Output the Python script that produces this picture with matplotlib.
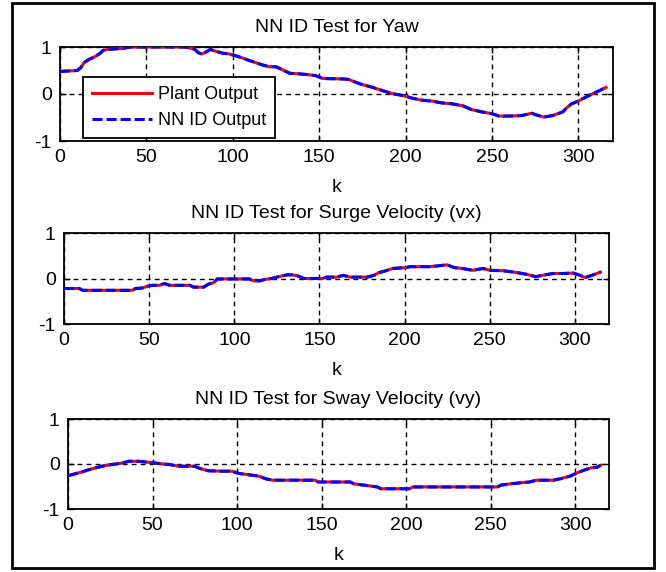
import numpy as np
import matplotlib
matplotlib.use("Agg")
import matplotlib.pyplot as plt
from matplotlib.patches import Rectangle

plt.rcParams['font.family'] = ['Liberation Sans', 'DejaVu Sans']
plt.rcParams['axes.unicode_minus'] = False

# yaw
k_yaw = [0, 5, 10, 12, 14, 17, 20, 23, 25, 28, 36, 41, 49, 72, 75, 78, 80, 82, 85, 87,
         90, 94, 98, 102, 106, 109, 113, 117, 121, 125, 129, 133, 138, 144, 148, 152, 164, 167, 169, 174,
         180, 186, 192, 198, 204, 209, 215, 221, 227, 233, 238, 244, 250, 254, 260, 267, 273, 276, 280, 285,
         291, 293, 296, 300, 304, 308, 312, 316]
yaw = [0.48, 0.49, 0.50, 0.56, 0.67, 0.74, 0.79, 0.86, 0.93, 0.95, 0.97, 1.0, 1.0, 1.0, 0.98, 0.95, 0.88, 0.85, 0.90, 0.95,
       0.91, 0.87, 0.85, 0.81, 0.76, 0.72, 0.67, 0.62, 0.58, 0.58, 0.51, 0.44, 0.43, 0.41, 0.39, 0.33, 0.32, 0.31, 0.28, 0.21,
       0.15, 0.08, 0.01, -0.03, -0.09, -0.13, -0.15, -0.19, -0.21, -0.25, -0.33, -0.38, -0.42, -0.47, -0.47, -0.46, -0.41, -0.45, -0.49, -0.46,
       -0.38, -0.30, -0.21, -0.15, -0.07, 0.0, 0.07, 0.14]
nn_yaw = list(yaw)

# surge velocity
k_vx = [0, 9, 11, 27, 40, 42, 46, 49, 52, 56, 59, 62, 74, 76, 82, 85, 88, 90, 99, 109,
        111, 115, 118, 122, 126, 131, 134, 137, 141, 152, 154, 160, 164, 168, 172, 178, 182, 185, 189, 193,
        201, 203, 215, 225, 229, 234, 240, 246, 250, 258, 266, 272, 277, 281, 287, 293, 299, 303, 306, 310, 315]
vx = [-0.22, -0.22, -0.26, -0.26, -0.26, -0.22, -0.21, -0.17, -0.15, -0.15, -0.11, -0.15, -0.15, -0.19, -0.19, -0.12, -0.09, -0.01, -0.01, -0.01,
      -0.05, -0.05, -0.02, 0.0, 0.04, 0.08, 0.08, 0.06, 0.0, 0.0, 0.03, 0.03, 0.07, 0.03, 0.03, 0.03, 0.07, 0.13, 0.17, 0.22,
      0.24, 0.26, 0.26, 0.30, 0.24, 0.22, 0.18, 0.22, 0.18, 0.17, 0.13, 0.09, 0.04, 0.07, 0.11, 0.11, 0.12, 0.07, 0.02, 0.07, 0.14]
nn_vx = list(vx)

# sway velocity
k_vy = [0, 4, 8, 12, 16, 20, 26, 32, 36, 42, 47, 52, 56, 60, 65, 75, 78, 83, 91, 97,
        101, 107, 113, 117, 121, 146, 148, 167, 169, 175, 183, 185, 202, 204, 254, 256, 262, 267, 273, 277,
        287, 291, 297, 301, 305, 309, 313, 315]
vy = [-0.26, -0.22, -0.18, -0.13, -0.09, -0.05, -0.01, 0.02, 0.06, 0.06, 0.04, 0.02, 0.0, -0.01, -0.05, -0.05, -0.10, -0.15, -0.16, -0.16,
      -0.21, -0.24, -0.27, -0.33, -0.36, -0.36, -0.40, -0.40, -0.44, -0.47, -0.51, -0.55, -0.55, -0.51, -0.51, -0.47, -0.44, -0.42, -0.40, -0.36,
      -0.36, -0.33, -0.27, -0.20, -0.14, -0.09, -0.07, -0.03]
nn_vy = list(vy)

titles = ['NN ID Test for Yaw', 'NN ID Test for Surge Velocity (vx)', 'NN ID Test for Sway Velocity (vy)']
xticks = [0, 50, 100, 150, 200, 250, 300]
yticks = [-1, 0, 1]

fig = plt.figure(figsize=(6.66, 5.72), dpi=100)
W, H = 666, 572
# axes boxes in pixels: left, top, right, bottom
boxes = [(60, 47, 613, 141), (64, 233, 609, 324), (68, 419, 609, 509)]
series = [(k_yaw, yaw, nn_yaw), (k_vx, vx, nn_vx), (k_vy, vy, nn_vy)]

axes = []
for (l, t, r, b), (k, plant, nn), title in zip(boxes, series, titles):
    ax = fig.add_axes([l / W, 1 - b / H, (r - l) / W, (b - t) / H])
    ax.plot(k, plant, color='red', lw=2.2, label='Plant Output', zorder=3)
    ax.plot(k, nn, color='blue', lw=2.2, ls=(0, (3.3, 1.3)), label='NN ID Output', zorder=4)
    ax.set_xlim(0, 320)
    ax.set_ylim(-1, 1)
    ax.set_xticks(xticks)
    ax.set_yticks(yticks)
    ax.grid(True, color='black', ls=(0, (3.5, 3)), lw=1.0)
    ax.tick_params(direction='in', length=4, width=1, top=True, right=True, labelsize=14, pad=6)
    for s in ax.spines.values():
        s.set_linewidth(1.3)
    ax.set_title(title, fontsize=14, pad=11)
    ax.set_xlabel('k', fontsize=14, labelpad=9)
    axes.append(ax)

leg = axes[0].legend(loc='lower left', bbox_to_anchor=(0.042, 0.03), borderaxespad=0,
                     fontsize=13, handlelength=3.3, handletextpad=0.35, borderpad=0.5,
                     labelspacing=0.5, fancybox=False, framealpha=1)
leg.get_frame().set_edgecolor('black')
leg.get_frame().set_linewidth(1.3)

fig.add_artist(Rectangle((12 / W, 1 - 568 / H), 642 / W, 565 / H, transform=fig.transFigure,
                         fill=False, ec='black', lw=2))

fig.savefig('out.png', dpi=100)
